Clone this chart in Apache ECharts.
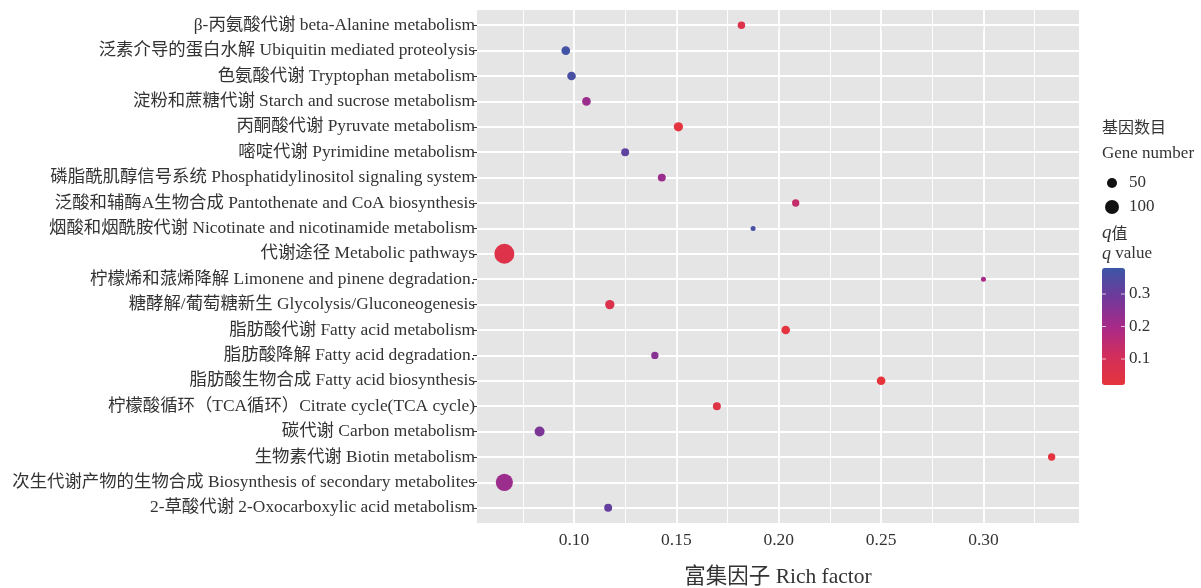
<!DOCTYPE html>
<html>
<head>
<meta charset="utf-8">
<script src="https://cdn.jsdelivr.net/npm/echarts@6/dist/echarts.min.js"></script>
<style>
  html, body { margin: 0; padding: 0; background: #ffffff; }
  #chart { width: 1201px; height: 588px; }
</style>
</head>
<body>
<div id="chart"></div>
<script>
// KEGG enrichment of differentially expressed genes (top to bottom)
const pathways = [
  'β-丙氨酸代谢 beta-Alanine metabolism',
  '泛素介导的蛋白水解 Ubiquitin mediated proteolysis',
  '色氨酸代谢 Tryptophan metabolism',
  '淀粉和蔗糖代谢 Starch and sucrose metabolism',
  '丙酮酸代谢 Pyruvate metabolism',
  '嘧啶代谢 Pyrimidine metabolism',
  '磷脂酰肌醇信号系统 Phosphatidylinositol signaling system',
  '泛酸和辅酶A生物合成 Pantothenate and CoA biosynthesis',
  '烟酸和烟酰胺代谢 Nicotinate and nicotinamide metabolism',
  '代谢途径 Metabolic pathways',
  '柠檬烯和蒎烯降解 Limonene and pinene degradation.',
  '糖酵解/葡萄糖新生 Glycolysis/Gluconeogenesis',
  '脂肪酸代谢 Fatty acid metabolism',
  '脂肪酸降解 Fatty acid degradation.',
  '脂肪酸生物合成 Fatty acid biosynthesis',
  '柠檬酸循环（TCA循环）Citrate cycle(TCA cycle)',
  '碳代谢 Carbon metabolism',
  '生物素代谢 Biotin metabolism',
  '次生代谢产物的生物合成 Biosynthesis of secondary metabolites',
  '2-草酸代谢 2-Oxocarboxylic acid metabolism'
];
const richFactor = [0.1818, 0.096, 0.0988, 0.1061, 0.151, 0.125, 0.1429, 0.2083, 0.1875, 0.066,
                    0.30, 0.1175, 0.2034, 0.1395, 0.25, 0.1698, 0.0832, 0.3333, 0.066, 0.1167];
const geneNumber = [27, 37, 37, 37, 43, 31, 31, 26, 11, 206,
                    11, 43, 37, 26, 37, 31, 50, 26, 150, 31];
const qValue = [0.06, 0.37, 0.36, 0.22, 0.03, 0.32, 0.22, 0.14, 0.36, 0.06,
                0.20, 0.07, 0.03, 0.25, 0.02, 0.05, 0.27, 0.03, 0.22, 0.31];

const xTicks = [0.10, 0.15, 0.20, 0.25, 0.30];
const xMinorTicks = [0.075, 0.125, 0.175, 0.225, 0.275, 0.325];
const sizeBreaks = [50, 100];
const qTicks = [0.1, 0.2, 0.3];
const qRange = [0.02, 0.38];

const SERIF = "'Liberation Serif', 'Noto Sans CJK SC', serif";
const TEXT = '#333333';
const qColors = ['#E5353B', '#D22E5C', '#A72A89', '#70399A', '#3C56A6'];

// dot diameter grows with the square root of the gene count
function dotSize(n) { return Math.sqrt(4 + 1.92 * n); }

// x limits padded by 5% of the data range
const xLo = Math.min(...richFactor), xHi = Math.max(...richFactor);
const xPad = (xHi - xLo) * 0.05;

const catIdx = pathways.map((_, i) => i);
const points = pathways.map((_, i) => [richFactor[i], i, geneNumber[i], qValue[i]]);

const gridLines = []
  .concat(xMinorTicks.map(v => ({ xAxis: v, lineStyle: { color: '#ffffff', width: 0.9, type: 'solid' } })))
  .concat(xTicks.map(v => ({ xAxis: v, lineStyle: { color: '#ffffff', width: 1.8, type: 'solid' } })))
  .concat(catIdx.map(i => ({ yAxis: i, lineStyle: { color: '#ffffff', width: 1.8, type: 'solid' } })));

// colour bar geometry
const bar = { left: 1102, top: 268, width: 23, height: 117 };
const qToY = v => bar.top + (qRange[1] - v) / (qRange[1] - qRange[0]) * bar.height;

const graphics = [
  { type: 'text', style: { x: 1102, y: 127, text: '基因数目', font: "16px 'Noto Sans CJK SC'", fill: TEXT, verticalAlign: 'middle' } },
  { type: 'text', style: { x: 1102, y: 154, text: 'Gene number', font: '17px ' + SERIF, fill: TEXT, verticalAlign: 'middle' } },
  { type: 'text', style: { x: 1102, y: 233, text: '{i|q}值', fill: TEXT, verticalAlign: 'middle',
      font: "16px 'Noto Sans CJK SC'",
      rich: { i: { fontStyle: 'italic', fontFamily: SERIF, fontSize: 19, fill: TEXT } } } },
  { type: 'text', style: { x: 1102, y: 254, text: '{i|q} value', fill: TEXT, verticalAlign: 'middle',
      font: '17px ' + SERIF,
      rich: { i: { fontStyle: 'italic', fontFamily: SERIF, fontSize: 18, fill: TEXT } } } }
];
sizeBreaks.forEach((n, k) => {
  const cy = 183 + k * 24;
  graphics.push({ type: 'circle', shape: { cx: 1112, cy: cy, r: dotSize(n) / 2 }, style: { fill: '#111111' } });
  graphics.push({ type: 'text', style: { x: 1129, y: cy, text: String(n), font: '17px ' + SERIF, fill: TEXT, verticalAlign: 'middle' } });
});
qTicks.forEach(v => {
  const y = qToY(v);
  graphics.push({ type: 'line', z: 100, shape: { x1: bar.left, y1: y, x2: bar.left + 4, y2: y }, style: { stroke: 'rgba(255,255,255,0.7)', lineWidth: 1 } });
  graphics.push({ type: 'line', z: 100, shape: { x1: bar.left + bar.width - 4, y1: y, x2: bar.left + bar.width, y2: y }, style: { stroke: 'rgba(255,255,255,0.7)', lineWidth: 1 } });
  graphics.push({ type: 'text', style: { x: bar.left + bar.width + 4, y: y, text: String(v), font: '17px ' + SERIF, fill: TEXT, verticalAlign: 'middle' } });
});

const chart = echarts.init(document.getElementById('chart'), null, { renderer: 'canvas' });
chart.setOption({
  animation: false,
  backgroundColor: '#ffffff',
  grid: {
    left: 477, right: 122, top: 10, bottom: 65,
    outerBoundsMode: 'none',
    containLabel: false,
    show: true, backgroundColor: '#E5E5E5', borderWidth: 0
  },
  xAxis: {
    type: 'value',
    min: xLo - xPad, max: xHi + xPad,
    axisLine: { show: false },
    splitLine: { show: false },
    axisTick: { show: true, customValues: xTicks, length: 4, lineStyle: { color: TEXT, width: 1 } },
    axisLabel: { customValues: xTicks, formatter: v => v.toFixed(2), color: TEXT, fontFamily: SERIF, fontSize: 17.5, margin: 9 },
    name: '富集因子 Rich factor',
    nameLocation: 'middle',
    nameGap: 44,
    nameTextStyle: { color: TEXT, fontFamily: "'Liberation Serif', 'Noto Sans CJK SC'", fontSize: 21.5 }
  },
  yAxis: {
    type: 'value',
    inverse: true,
    min: -0.6, max: pathways.length - 0.4,
    axisLine: { show: false },
    splitLine: { show: false },
    axisTick: { show: true, customValues: catIdx, length: 4, lineStyle: { color: TEXT, width: 1 } },
    axisLabel: { customValues: catIdx, formatter: v => pathways[Math.round(v)], color: TEXT, fontFamily: SERIF, fontSize: 17.4, margin: 2 }
  },
  visualMap: {
    type: 'continuous',
    dimension: 3,
    seriesIndex: 1,
    min: qRange[0], max: qRange[1],
    orient: 'vertical',
    left: bar.left, top: bar.top,
    itemWidth: bar.width, itemHeight: bar.height,
    padding: 0,
    calculable: false,
    inRange: { color: qColors }
  },
  graphic: graphics,
  series: [
    {
      type: 'scatter',
      data: [],
      silent: true,
      markLine: {
        silent: true,
        precision: 4,
        symbol: ['none', 'none'],
        label: { show: false },
        emphasis: { disabled: true },
        animation: false,
        z: 1,
        data: gridLines
      }
    },
    {
      type: 'scatter',
      z: 10,
      data: points,
      symbolSize: d => dotSize(d[2]),
      itemStyle: { opacity: 1 }
    }
  ]
});
</script>
</body>
</html>
